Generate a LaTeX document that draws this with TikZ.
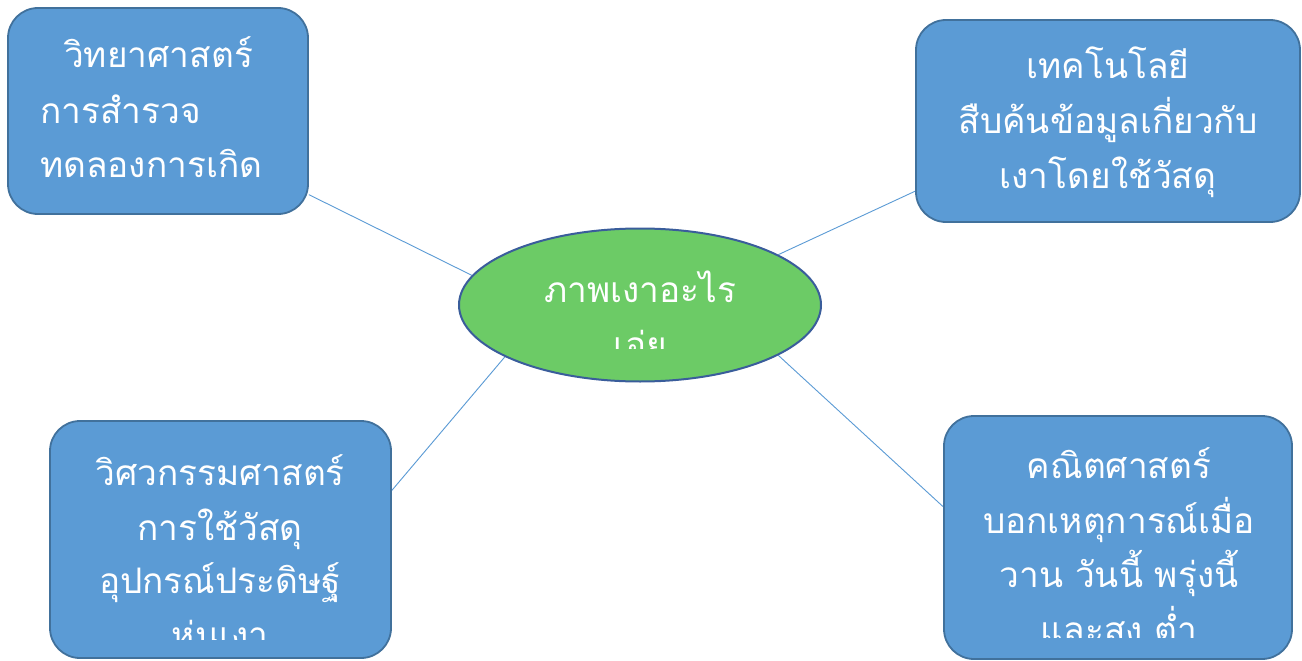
\documentclass[tikz,border=0pt]{standalone}
\usepackage{fontspec}
\newfontfamily\thaifont[Script=Thai]{Loma}
\definecolor{boxblue}{RGB}{91,155,213}
\definecolor{boxline}{RGB}{65,113,156}
\definecolor{ellgreen}{RGB}{108,203,102}
\definecolor{ellline}{RGB}{58,93,155}
\definecolor{conn}{RGB}{91,155,213}
\usetikzlibrary{shapes.geometric}
\pgfdeclarelayer{paper}
\pgfdeclarelayer{bg}
\pgfsetlayers{paper,bg,main}
\tikzset{
  box/.style={draw=boxline, line width=1.8pt, fill=boxblue, rounded corners=30pt, inner sep=0pt},
  ell/.style={ellipse, draw=ellline, line width=2pt, fill=ellgreen, inner sep=0pt},
  txt/.style={text=white, font=\thaifont\fontsize{35.2}{40}\selectfont, inner sep=0pt},
  conline/.style={draw=conn, line width=0.9pt}
}
\begin{document}
\begin{tikzpicture}[x=1pt,y=-1pt]
\useasboundingbox (0,0) rectangle (1302,661);
\begin{pgfonlayer}{paper}
\fill[white] (0,0) rectangle (1302,661);
\end{pgfonlayer}
% shapes
\node[box, minimum width=300pt, minimum height=206pt] (tl) at (158,111) {};
\node[box, minimum width=384pt, minimum height=202pt] (tr) at (1108,121) {};
\node[box, minimum width=341pt, minimum height=237pt] (bl) at (220.5,539.5) {};
\node[box, minimum width=348pt, minimum height=243pt] (br) at (1118,537.5) {};
\node[ell, minimum width=362pt, minimum height=153pt] (e) at (640,305) {};
% connectors
\begin{pgfonlayer}{bg}
\draw[conline] (tl.-29.2) -- (e.170.6);
\draw[conline] (e.20.3) -- (tr.200.8);
\draw[conline] (e.201) -- (bl.16.2);
\draw[conline] (e.340) -- (br.170.4);
\end{pgfonlayer}
% texts
\node[txt, anchor=base west] (tl1) at (64,68) {วิทยาศาสตร์};
\node[txt, anchor=base west] (tl2) at (40,123) {การสำรวจ};
\node[txt, anchor=base west] (tl3) at (40,177) {ทดลองการเกิด};
\node[txt, anchor=base] (tr1) at (1108,78) {เทคโนโลยี};
\node[txt, anchor=base] (tr2) at (1108,133) {สืบค้นข้อมูลเกี่ยวกับ};
\node[txt, anchor=base] (tr3) at (1108,188) {เงาโดยใช้วัสดุ};
\begin{scope}
\clip (0,0) rectangle (1302,348);
\node[txt, anchor=base] (e1) at (640,302) {ภาพเงาอะไร};
\node[txt, anchor=base] (e2) at (640,357) {เอ่ย};
\end{scope}
\begin{scope}
\clip (0,0) rectangle (650,639);
\node[txt, anchor=base] (bl1) at (220,485) {วิศวกรรมศาสตร์};
\node[txt, anchor=base] (bl2) at (220,540) {การใช้วัสดุ};
\node[txt, anchor=base] (bl3) at (220,593) {อุปกรณ์ประดิษฐ์};
\node[txt, anchor=base] (bl4) at (220,647) {หุ่นเงา};
\end{scope}
\begin{scope}
\clip (650,0) rectangle (1302,637);
\node[txt, anchor=base] (br1) at (1119,478) {คณิตศาสตร์};
\node[txt, anchor=base] (br2) at (1119,533) {บอกเหตุการณ์เมื่อ};
\node[txt, anchor=base] (br3) at (1119,587) {วาน วันนี้ พรุ่งนี้};
\node[txt, anchor=base] (br4) at (1119,642) {และสูง ต่ำ};
\end{scope}
\end{tikzpicture}
\end{document}
